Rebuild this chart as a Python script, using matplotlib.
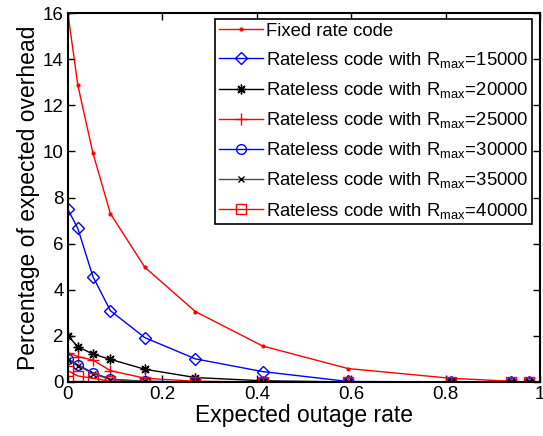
import matplotlib
matplotlib.use("Agg")
import matplotlib.pyplot as plt

plt.rcParams['font.family'] = ['Liberation Sans', 'DejaVu Sans']
plt.rcParams['mathtext.fontset'] = 'custom'
plt.rcParams['mathtext.rm'] = 'Liberation Sans'
plt.rcParams['mathtext.it'] = 'Liberation Sans:italic'

# 横轴：期望中断率
outage = [0, 0.021, 0.053, 0.09, 0.163, 0.27, 0.412, 0.593, 0.81, 0.938, 0.977]

# 各条曲线的数据
fixed_rate = [16.0, 12.88, 9.93, 7.3, 4.97, 3.05, 1.56, 0.58, 0.16, 0.03, 0.0]
r15000 = [7.49, 6.66, 4.57, 3.09, 1.92, 1.0, 0.45, 0.02, 0.0, 0.0, 0.0]
r20000 = [2.0, 1.53, 1.21, 0.98, 0.55, 0.19, 0.05, 0.0, 0.0, 0.0, 0.0]
r25000 = [1.27, 1.1, 0.95, 0.49, 0.16, 0.03, 0.0, 0.0, 0.0, 0.0, 0.0]
r30000 = [1.0, 0.74, 0.4, 0.12, 0.03, 0.0, 0.0, 0.0, 0.0, 0.0, 0.0]
r35000 = [0.95, 0.7, 0.36, 0.1, 0.02, 0.0, 0.0, 0.0, 0.0, 0.0, 0.0]
r40000 = [0.49, 0.26, 0.16, 0.03, 0.0, 0.0, 0.0, 0.0, 0.0, 0.0, 0.0]

fig = plt.figure(figsize=(5.43, 4.36), dpi=100)
ax = fig.add_axes([0.125, 0.124, 0.87, 0.846])

lab = 'Rateless code with R$_{\\mathrm{max}}$=%d'
ax.plot(outage, fixed_rate, color='red', marker='.', markersize=4, lw=1, label='Fixed rate code')
ax.plot(outage, r15000, color='blue', marker='D', markersize=6, mfc='none', lw=1, label=lab % 15000)
ax.plot(outage, r20000, color='black', marker=(8, 2, 0), markersize=7, lw=1, label=lab % 20000)
ax.plot(outage, r25000, color='red', marker='+', markersize=8, lw=1, label=lab % 25000)
ax.plot(outage, r30000, color='blue', marker='o', markersize=7, mfc='none', lw=1, label=lab % 30000)
ax.plot(outage, r35000, color='0.3', marker='x', markersize=4, mec='black', lw=1, label=lab % 35000)
ax.plot(outage, r40000, color='red', marker='s', markersize=7, mfc='none', lw=1, label=lab % 40000)

ax.set_xlim(0, 1)
ax.set_ylim(0, 16)
ax.set_xticks([0, 0.2, 0.4, 0.6, 0.8, 1])
ax.set_xticklabels(['0', '0.2', '0.4', '0.6', '0.8', '1'])
ax.set_yticks(range(0, 17, 2))
ax.tick_params(direction='in', top=True, right=True, labelsize=13.5, length=5, width=1, pad=3)
for s in ax.spines.values():
    s.set_linewidth(1.5)

ax.set_xlabel('Expected outage rate', fontsize=16.5, labelpad=1)
ax.set_ylabel('Percentage of expected overhead', fontsize=16.5, labelpad=2)

leg = ax.legend(loc='upper right', bbox_to_anchor=(0.983, 0.984), borderaxespad=0,
                fontsize=13.3, fancybox=False, framealpha=1, edgecolor='black',
                handlelength=2.4, handletextpad=0.15, labelspacing=0.55, borderpad=0.2)
leg.get_frame().set_linewidth(1.2)

plt.savefig('out.png', dpi=100)
